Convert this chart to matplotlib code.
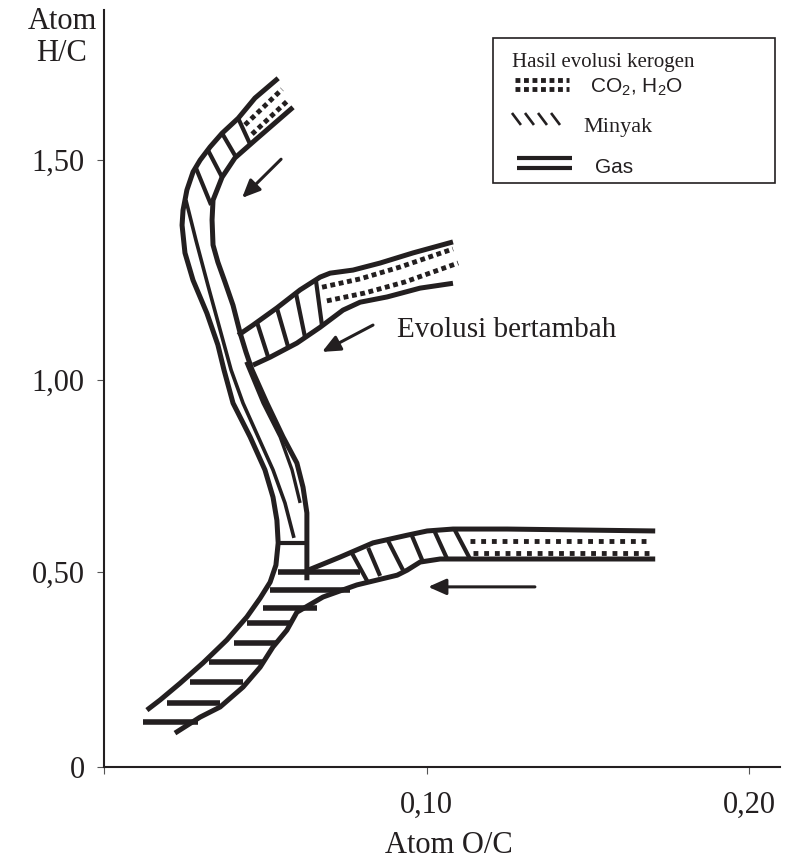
import numpy as np
import matplotlib
matplotlib.use('Agg')
import matplotlib.pyplot as plt
from matplotlib.patches import Rectangle
from matplotlib.lines import Line2D

plt.rcParams['font.family'] = ['Liberation Serif', 'DejaVu Serif']
plt.rcParams['mathtext.fontset'] = 'custom'
plt.rcParams['mathtext.rm'] = 'Liberation Sans'
ink = '#231f20'
sans = ['Liberation Sans', 'DejaVu Sans']

# axis ticks (the printed H/C axis is not evenly spaced)
hc_ticks = [0, 0.5, 1.0, 1.5]
hc_labels = ['0', '0,50', '1,00', '1,50']
hc_pos = [0, 195, 387, 607]
oc_ticks = [0, 0.1, 0.2]
oc_labels = ['', '0,10', '0,20']

# --- jalur 1 (kiri atas) ---
b1_outer_x = [0.0540, 0.0468, 0.0416, 0.0366, 0.0329, 0.0298, 0.0276, 0.0257, 0.0245, 0.0242,
              0.0251, 0.0276, 0.0319, 0.0353, 0.0372, 0.0400, 0.0453, 0.0499, 0.0524, 0.0536,
              0.0540, 0.0533, 0.0515, 0.0484, 0.0443, 0.0381, 0.0307, 0.0236, 0.0174, 0.0133]
b1_outer_y = [1.686, 1.641, 1.595, 1.561, 1.530, 1.500, 1.473, 1.432, 1.386, 1.352,
              1.289, 1.227, 1.152, 1.080, 1.023, 0.940, 0.852, 0.766, 0.695, 0.635,
              0.576, 0.518, 0.474, 0.433, 0.385, 0.326, 0.267, 0.215, 0.172, 0.146]
b1_inner_x = [0.0586, 0.0468, 0.0406, 0.0366, 0.0338, 0.0335, 0.0338, 0.0353, 0.0375, 0.0400,
              0.0422, 0.0440, 0.0459, 0.0505, 0.0555, 0.0598, 0.0617, 0.0629, 0.0629]
b1_inner_y = [1.620, 1.545, 1.505, 1.461, 1.409, 1.364, 1.307, 1.268, 1.223, 1.170,
              1.107, 1.064, 1.023, 0.940, 0.852, 0.784, 0.721, 0.654, 0.479]
b1_mid_x = [0.0254, 0.0285, 0.0322, 0.0360, 0.0394, 0.0431, 0.0478, 0.0524, 0.0561, 0.0589]
b1_mid_y = [1.409, 1.318, 1.216, 1.114, 1.023, 0.940, 0.852, 0.766, 0.680, 0.589]
b1_mid2_x = [0.0440, 0.0493, 0.0546, 0.0583, 0.0608]
b1_mid2_y = [1.041, 0.940, 0.852, 0.766, 0.680]
b1_rungs = [(0.0416, 1.595, 0.0453, 1.536), (0.0366, 1.561, 0.0409, 1.507),
            (0.0322, 1.523, 0.0366, 1.461), (0.0285, 1.482, 0.0332, 1.398),
            (0.0546, 0.576, 0.0623, 0.576)]
b1_dots = [([0.0437, 0.0552], [1.580, 1.661]), ([0.0459, 0.0571], [1.559, 1.636])]

# --- jalur 2 (tengah) ---
b2_upper_x = [0.0416, 0.0462, 0.0536, 0.0608, 0.0670, 0.0701, 0.0772, 0.0856, 0.0958, 0.1082]
b2_upper_y = [1.102, 1.125, 1.164, 1.205, 1.234, 1.243, 1.250, 1.266, 1.289, 1.314]
b2_lower_x = [0.0462, 0.0515, 0.0598, 0.0670, 0.0741, 0.0794, 0.0878, 0.0980, 0.1082]
b2_lower_y = [1.034, 1.052, 1.084, 1.120, 1.159, 1.177, 1.189, 1.209, 1.220]
b2_rungs = [(0.0474, 1.132, 0.0509, 1.052), (0.0536, 1.164, 0.0571, 1.075),
            (0.0595, 1.198, 0.0623, 1.098), (0.0657, 1.227, 0.0676, 1.123)]
b2_dots = [([0.0676, 0.0794, 0.0918, 0.1082], [1.211, 1.230, 1.257, 1.298]),
           ([0.0691, 0.0809, 0.0933, 0.1098], [1.180, 1.198, 1.223, 1.266])]

# --- jalur 3 (bawah) ---
b3_upper_x = [0.0633, 0.0732, 0.0834, 0.0940, 0.1002, 0.1082, 0.1250, 0.1709]
b3_upper_y = [0.505, 0.539, 0.576, 0.596, 0.607, 0.612, 0.612, 0.607]
b3_lower_x = [0.1709, 0.1144, 0.1042, 0.0980, 0.0940, 0.0909, 0.0784, 0.0679, 0.0598, 0.0567,
              0.0524, 0.0484, 0.0431, 0.0360, 0.0298, 0.0220]
b3_lower_y = [0.534, 0.534, 0.534, 0.526, 0.505, 0.492, 0.467, 0.436, 0.397, 0.351,
              0.308, 0.256, 0.205, 0.154, 0.128, 0.087]
b3_rungs = [(0.0769, 0.549, 0.0816, 0.477), (0.0819, 0.563, 0.0856, 0.490),
            (0.0881, 0.581, 0.0927, 0.505), (0.0955, 0.594, 0.0989, 0.526),
            (0.1026, 0.604, 0.1064, 0.534), (0.1088, 0.609, 0.1135, 0.534)]
b3_dots = [([0.1135, 0.1693], [0.581, 0.581]), ([0.1144, 0.1702], [0.549, 0.549])]

# --- zona gas ---
gas_y = [0.500, 0.454, 0.408, 0.369, 0.318, 0.269, 0.218, 0.164, 0.115]
gas_x0 = [0.0540, 0.0515, 0.0493, 0.0443, 0.0403, 0.0326, 0.0267, 0.0195, 0.0121]
gas_x1 = [0.0794, 0.0763, 0.0660, 0.0577, 0.0533, 0.0493, 0.0431, 0.0360, 0.0291]

# arah evolusi (ekor -> kepala)
arrows = [((0.0549, 1.502), (0.0428, 1.414)),
          ((0.0834, 1.125), (0.0676, 1.064)),
          ((0.1336, 0.462), (0.1005, 0.462))]

fig = plt.figure(figsize=(7.94, 8.6), dpi=100)
ax = fig.add_axes([0.131, 0.1081, 0.8514, 0.8802])

kv = [-1.0] + hc_ticks + [3.0]
kp = [-390] + hc_pos + [1267]
ax.set_yscale('function', functions=(lambda v: np.interp(v, kv, kp),
                                     lambda p: np.interp(p, kp, kv)))
ax.set_xlim(0, 0.2096)
ax.set_ylim(0, 1.841)


def garis(x, y, lw=3.6):
    ax.plot(x, y, color=ink, lw=lw, solid_capstyle='butt', solid_joinstyle='round')


def titik(x, y, gap):
    ax.plot(x, y, color=ink, lw=3.5, linestyle=(0, (1, gap)), dash_capstyle='butt')


garis(b1_outer_x, b1_outer_y)
garis(b1_inner_x, b1_inner_y)
garis(b1_mid_x, b1_mid_y, lw=2.6)
garis(b1_mid2_x, b1_mid2_y, lw=2.4)
garis(b2_upper_x, b2_upper_y)
garis(b2_lower_x, b2_lower_y)
garis(b3_upper_x, b3_upper_y)
garis(b3_lower_x, b3_lower_y)

for r in b1_rungs + b2_rungs + b3_rungs:
    garis([r[0], r[2]], [r[1], r[3]], lw=3)

for xs, ys in b1_dots + b2_dots:
    titik(xs, ys, 0.75)
for xs, ys in b3_dots:
    titik(xs, ys, 1.2)

ax.hlines(gas_y, gas_x0, gas_x1, color=ink, lw=4)

for tail, head in arrows:
    ax.annotate('', xy=head, xytext=tail,
                arrowprops=dict(arrowstyle='-|>,head_length=0.9,head_width=0.4',
                                color=ink, lw=2.2, mutation_scale=12,
                                shrinkA=0, shrinkB=0))

ax.text(0.0909, 1.114, 'Evolusi bertambah', fontsize=21, color=ink,
        ha='left', va='center')

for s in ['top', 'right']:
    ax.spines[s].set_visible(False)
for s in ['left', 'bottom']:
    ax.spines[s].set_linewidth(1.5)
    ax.spines[s].set_color(ink)
ax.set_xticks(oc_ticks)
ax.set_xticklabels(oc_labels)
ax.set_yticks(hc_ticks)
ax.set_yticklabels(hc_labels)
ax.minorticks_off()
ax.tick_params(direction='out', length=5, width=0.8, color='#555555',
               labelsize=22, labelcolor=ink)
ax.tick_params(axis='y', pad=9)
ax.tick_params(axis='x', pad=12)

fig.text(0.078, 0.956, 'Atom\nH/C', fontsize=22, color=ink, ha='center',
         va='center', linespacing=1.15)
fig.text(0.5655, 0.0174, 'Atom O/C', fontsize=22, color=ink, ha='center', va='center')

# legenda
fig.patches.append(Rectangle((0.6209, 0.7872), 0.3552, 0.1686, transform=fig.transFigure,
                             facecolor='white', edgecolor=ink, lw=1.2))
fig.text(0.6448, 0.9279, 'Hasil evolusi kerogen', fontsize=15, color=ink,
         ha='left', va='center')
for yy in [0.9070, 0.8965]:
    fig.add_artist(Line2D([0.6486, 0.7166], [yy, yy], transform=fig.transFigure,
                          color=ink, lw=3.5, linestyle=(0, (1, 0.75)),
                          dash_capstyle='butt'))
fig.text(0.7431, 0.8988, r'CO$_2$, H$_2$O', fontsize=15, color=ink,
         ha='left', va='center', family=sans)
for k in range(4):
    x0 = 0.6448 + k * 0.0164
    fig.add_artist(Line2D([x0, x0 + 0.0113], [0.8686, 0.8547], transform=fig.transFigure,
                          color=ink, lw=1.9, solid_capstyle='butt'))
fig.text(0.7343, 0.8512, 'Minyak', fontsize=16, color=ink, ha='left', va='center')
for yy in [0.8163, 0.8047]:
    fig.add_artist(Line2D([0.6511, 0.7204], [yy, yy], transform=fig.transFigure,
                          color=ink, lw=3, solid_capstyle='butt'))
fig.text(0.7494, 0.8058, 'Gas', fontsize=15, color=ink, ha='left', va='center',
         family=sans)

fig.savefig('out.png', dpi=100)
